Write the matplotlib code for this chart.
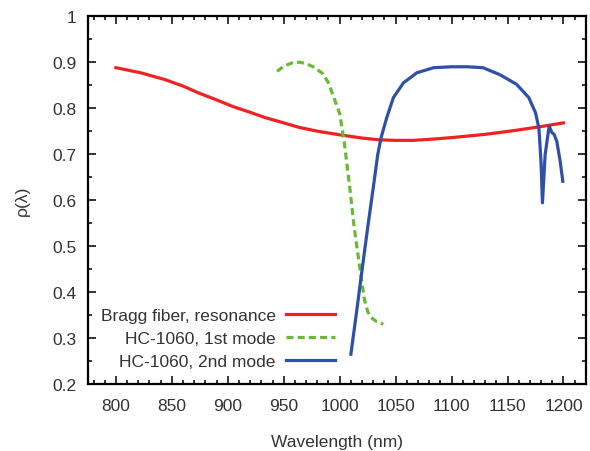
import numpy as np
import matplotlib
matplotlib.use("Agg")
import matplotlib.pyplot as plt
from matplotlib.ticker import MultipleLocator

plt.rcParams['font.family'] = ['Liberation Sans', 'DejaVu Sans']

# Bragg fiber resonance curve
bragg_wl = [800, 822, 844, 860, 874, 890, 904, 920, 934, 950, 964, 980, 1000,
            1020, 1036, 1050, 1066, 1085, 1100, 1130, 1158, 1180, 1200]
bragg_rho = [0.888, 0.877, 0.862, 0.848, 0.833, 0.818, 0.804, 0.791, 0.779,
             0.768, 0.758, 0.750, 0.742, 0.735, 0.731, 0.730, 0.730, 0.733,
             0.736, 0.743, 0.752, 0.760, 0.768]

# HC-1060, first mode
mode1_wl = [944, 950, 957, 964, 970, 977, 985, 990, 995, 1000, 1004, 1009,
            1013, 1018, 1022, 1025, 1028, 1033, 1039]
mode1_rho = [0.880, 0.891, 0.898, 0.900, 0.897, 0.889, 0.875, 0.855, 0.822,
             0.788, 0.728, 0.627, 0.540, 0.453, 0.385, 0.358, 0.345, 0.336,
             0.330]

# HC-1060, second mode
mode2_wl = [1010, 1015, 1019, 1025, 1030, 1034, 1037, 1042, 1048, 1057, 1069,
            1084, 1100, 1114, 1128, 1143, 1158, 1169, 1175, 1178, 1179, 1180,
            1181.2, 1183.6, 1187.2, 1189.6, 1191.6, 1194, 1197, 1199.4]
mode2_rho = [0.265, 0.355, 0.430, 0.540, 0.627, 0.699, 0.736, 0.779, 0.823,
             0.855, 0.877, 0.888, 0.890, 0.890, 0.888, 0.873, 0.852, 0.823,
             0.790, 0.757, 0.720, 0.678, 0.594, 0.699, 0.761, 0.747, 0.743,
             0.728, 0.685, 0.641]

labels = ["Bragg fiber, resonance", "HC-1060, 1st mode", "HC-1060, 2nd mode"]

fig = plt.figure(figsize=(5.9, 4.52), dpi=100)
ax = fig.add_axes([0.149, 0.148, 0.844, 0.814])

ax.plot(bragg_wl, bragg_rho, color='#ee2222', lw=2.3, label=labels[0])
ax.plot(mode1_wl, mode1_rho, color='#66bb33', lw=2.3, dashes=(2.2, 1.3),
        label=labels[1])
ax.plot(mode2_wl, mode2_rho, color='#3050a8', lw=2.3, label=labels[2])

ax.set_xlim(775, 1220)
ax.set_ylim(0.2, 1.0)
ax.xaxis.set_major_locator(MultipleLocator(50))
ax.xaxis.set_minor_locator(MultipleLocator(10))
ax.yaxis.set_minor_locator(MultipleLocator(0.05))
ax.set_yticks(np.arange(0.2, 1.01, 0.1))
ax.set_yticklabels(['0.2', '0.3', '0.4', '0.5', '0.6', '0.7', '0.8', '0.9', '1'])

ax.tick_params(which='both', direction='in', top=True, right=True,
               colors='#111111', labelcolor='#333333', labelsize=12.5, width=1.2)
ax.tick_params(which='major', length=6)
ax.tick_params(axis='x', which='major', pad=10)
ax.tick_params(axis='y', which='major', pad=8)
ax.tick_params(which='minor', length=3)
for sp in ax.spines.values():
    sp.set_linewidth(1.6)

ax.set_xlabel("Wavelength (nm)", fontsize=12.5, color='#333333', labelpad=15)
ax.set_ylabel("ρ(λ)", fontsize=12.5, color='#333333', labelpad=16)

ax.legend(loc='lower right', bbox_to_anchor=(0.496, 0.04), frameon=False,
          markerfirst=False, fontsize=12.5, handlelength=2.8, handletextpad=0.6,
          labelspacing=0.45, borderpad=0, borderaxespad=0, labelcolor='#333333')

fig.savefig("out.png", dpi=100)
